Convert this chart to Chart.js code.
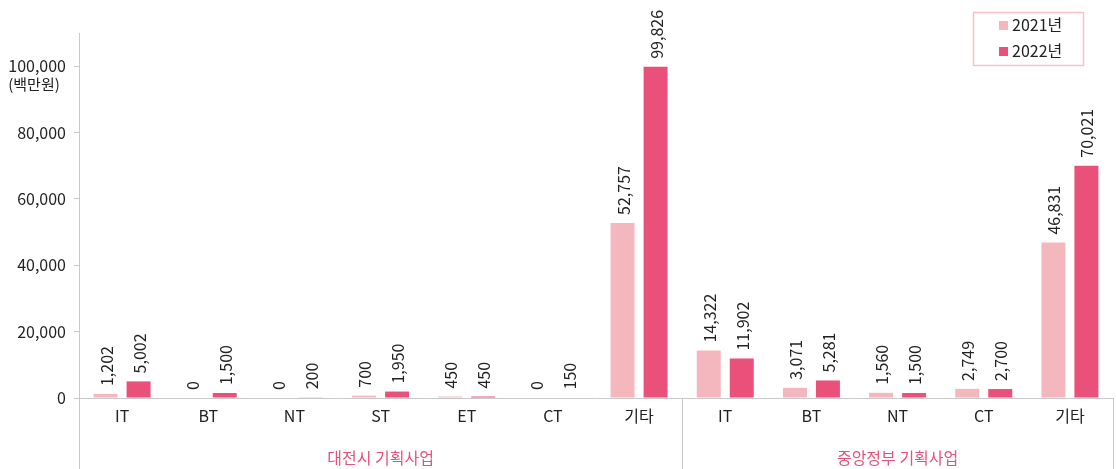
<!DOCTYPE html>
<html>
<head>
<meta charset="utf-8">
<script src="https://cdn.jsdelivr.net/npm/chart.js@4.4.0/dist/chart.umd.min.js"></script>
<style>
  html, body { margin: 0; padding: 0; background: #fff; }
  #wrap { width: 1116px; height: 469px; }
</style>
</head>
<body>
<div id="wrap"><canvas id="myChart" width="1116" height="469"></canvas></div>
<script>
// categories and groups
const categories = ['IT', 'BT', 'NT', 'ST', 'ET', 'CT', '기타', 'IT', 'BT', 'NT', 'CT', '기타'];
const groupNames = ['대전시 기획사업', '중앙정부 기획사업'];
const groupSizes = [7, 5];
// values (백만원)
const values2021 = [1202, 0, 0, 700, 450, 0, 52757, 14322, 3071, 1560, 2749, 46831];
const values2022 = [5002, 1500, 200, 1950, 450, 150, 99826, 11902, 5281, 1500, 2700, 70021];
const seriesNames = ['2021년', '2022년'];
const yTicks = [0, 20000, 40000, 60000, 80000, 100000];

const FONT = "'Noto Sans CJK KR', 'Noto Sans', sans-serif";
const lineColor = '#c9c9c9';
const textColor = '#222';
const groupColor = '#e9507a';

// rotated value labels above bars
const valueLabels = {
    id: 'valueLabels',
    afterDatasetsDraw(chart) {
        const ctx = chart.ctx;
        ctx.save();
        ctx.font = '16px ' + FONT;
        ctx.fillStyle = textColor;
        ctx.textAlign = 'left';
        ctx.textBaseline = 'middle';
        chart.data.datasets.forEach((ds, i) => {
            chart.getDatasetMeta(i).data.forEach((bar, j) => {
                ctx.save();
                ctx.translate(bar.x + 1, bar.y - 8);
                ctx.rotate(-Math.PI / 2);
                ctx.fillText(ds.data[j].toLocaleString('en-US'), 0, 0);
                ctx.restore();
            });
        });
        ctx.restore();
    }
};

// group labels, separators, unit, legend box
const extras = {
    id: 'extras',
    afterDraw(chart) {
        const ctx = chart.ctx;
        const area = chart.chartArea;
        const h = chart.height;
        const step = (area.right - area.left) / categories.length;
        ctx.save();
        ctx.strokeStyle = lineColor;
        ctx.lineWidth = 1;
        // separators below the axis
        let idx = 0;
        const bounds = [area.left];
        groupSizes.forEach(n => { idx += n; bounds.push(area.left + idx * step); });
        bounds.forEach(bx => {
            const px = Math.round(bx) + 0.5;
            ctx.beginPath();
            ctx.moveTo(px, area.bottom);
            ctx.lineTo(px, h);
            ctx.stroke();
        });
        // group names
        ctx.font = '16px ' + FONT;
        ctx.fillStyle = groupColor;
        ctx.textAlign = 'center';
        ctx.textBaseline = 'middle';
        groupNames.forEach((g, i) => {
            ctx.fillText(g, (bounds[i] + bounds[i + 1]) / 2, 458);
        });
        // unit
        ctx.fillStyle = textColor;
        ctx.font = '15px ' + FONT;
        ctx.fillText('(백만원)', 34, 84);
        // legend
        ctx.strokeStyle = '#f5c2c8';
        ctx.lineWidth = 1.5;
        ctx.strokeRect(973.5, 12.5, 110, 53);
        ctx.font = '16px ' + FONT;
        ctx.textAlign = 'left';
        chart.data.datasets.forEach((ds, i) => {
            const cy = 25 + i * 26;
            ctx.fillStyle = ds.backgroundColor;
            ctx.fillRect(999, cy - 4, 9, 9);
            ctx.fillStyle = textColor;
            ctx.fillText(ds.label, 1012, cy);
        });
        ctx.restore();
    }
};

const ctx = document.getElementById('myChart').getContext('2d');
new Chart(ctx, {
    type: 'bar',
    data: {
        labels: categories,
        datasets: [
            { label: seriesNames[0], data: values2021, backgroundColor: '#f5b7be' },
            { label: seriesNames[1], data: values2022, backgroundColor: '#e9507a' }
        ]
    },
    options: {
        responsive: false,
        animation: false,
        layout: { padding: { top: 33, right: 3, left: 0, bottom: 0 } },
        categoryPercentage: 0.766,
        barPercentage: 0.727,
        plugins: { legend: { display: false }, tooltip: { enabled: false } },
        scales: {
            x: {
                grid: { display: false, drawTicks: false },
                border: { display: true, color: lineColor },
                ticks: { font: { family: FONT, size: 16 }, color: textColor, padding: 8, maxRotation: 0 },
                afterFit(scale) { scale.height = 71; }
            },
            y: {
                min: 0,
                max: 110000,
                afterBuildTicks(scale) {
                    scale.ticks = yTicks.map(v => ({ value: v }));
                },
                grid: { drawOnChartArea: false, tickLength: 5, color: lineColor },
                border: { display: true, color: lineColor },
                ticks: {
                    font: { family: FONT, size: 16 },
                    color: textColor,
                    padding: 8,
                    callback: v => v.toLocaleString('en-US')
                },
                afterFit(scale) { scale.width = 79; }
            }
        }
    },
    plugins: [valueLabels, extras]
});
</script>
</body>
</html>
